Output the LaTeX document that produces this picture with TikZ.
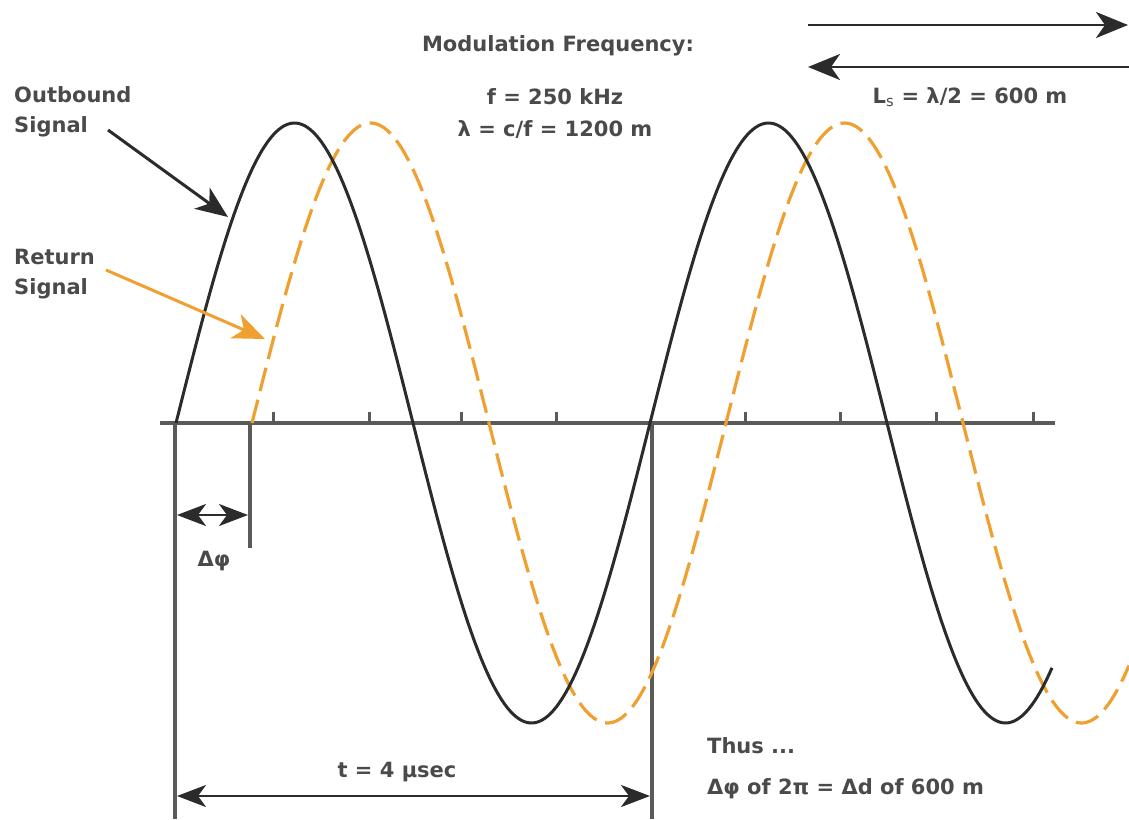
\documentclass[tikz,border=0pt]{standalone}
\usepackage{fontspec}
\setmainfont{DejaVu Sans}
\usetikzlibrary{arrows.meta}
\definecolor{txt}{HTML}{4A4A4A}
\definecolor{curveblack}{HTML}{2B2B2B}
\definecolor{sigorange}{HTML}{F0A030}
\definecolor{linegray}{HTML}{5A5A5A}
\tikzset{
  lbl/.style={font=\fontsize{21}{30}\selectfont\bfseries, text=txt, inner sep=0pt},
  lblleft/.style={lbl, anchor=west, align=left},
  bigtip/.style={-{Stealth[length=32pt,width=26pt,inset=9pt]}},
  dimtip/.style={{Stealth[length=29pt,width=22pt,inset=8pt]}-{Stealth[length=29pt,width=22pt,inset=8pt]}},
  guide/.style={draw=linegray, line width=3.2pt},
  outcurve/.style={draw=curveblack, line width=3pt},
  retcurve/.style={draw=sigorange, line width=3.2pt, dash pattern=on 24pt off 9pt},
}
\begin{document}
\begin{tikzpicture}[x=1pt,y=-1pt]
\useasboundingbox (0,0) rectangle (1129,819);

% axis and ticks
\coordinate (axL) at (160,423);
\coordinate (axR) at (1055,423);
\draw[guide] (axL) -- (axR);
\foreach \t in {273,369,461,556,745,840,936,1033}{
  \draw[linegray, line width=3pt] (\t,423) -- (\t,412);
}

% vertical guides
\coordinate (v1t) at (175,423);
\coordinate (v1b) at (175,819);
\coordinate (v2t) at (250,423);
\coordinate (v2b) at (250,548);
\coordinate (v3t) at (652,423);
\coordinate (v3b) at (652,819);
\draw[guide] (v1t) -- (v1b);
\draw[guide] (v2t) -- (v2b);
\draw[guide] (v3t) -- (v3b);

% curves
\draw[retcurve] plot[domain=252:1129, samples=300] (\x, {423-300*sin(0.759494*(\x-252))});
\draw[outcurve] plot[domain=176:1052, samples=300] (\x, {423-300*sin(0.759494*(\x-176))});

% delta phi dimension
\coordinate (dpL) at (177,515);
\coordinate (dpR) at (248,515);
\draw[curveblack, line width=2.8pt, dimtip] (dpL) -- (dpR);
\node[lbl] (dphi) at (214,561) {Δφ};

% t dimension
\coordinate (tL) at (177,796);
\coordinate (tR) at (650,796);
\draw[curveblack, line width=2.8pt, dimtip] (tL) -- (tR);
\node[lbl] (tlab) at (397,772) {t = 4 µsec};

% top arrows
\coordinate (a1s) at (808,25);
\coordinate (a1e) at (1128,25);
\coordinate (a2s) at (1129,67);
\coordinate (a2e) at (808,67);
\draw[curveblack, line width=2.8pt, bigtip] (a1s) -- (a1e);
\draw[curveblack, line width=2.8pt, bigtip] (a2s) -- (a2e);
\node[lbl] (ls) at (970,97) {L$_{\mathrm{s}}$ = λ/2 = 600 m};

% modulation text
\node[lbl] (modf) at (558,46) {Modulation Frequency:};
\node[lbl] (freq) at (555,97) {f = 250 kHz};
\node[lbl] (lam) at (555,129) {λ = c/f = 1200 m};

% signal labels
\node[lblleft] (outb) at (14,112) {Outbound\\Signal};
\node[lblleft] (retn) at (14,274) {Return\\Signal};
\coordinate (outtip) at (228,217);
\coordinate (outst) at (108,130);
\coordinate (rettip) at (265,339);
\coordinate (retst) at (106,270);
\draw[curveblack, line width=3pt, bigtip] (outst) -- (outtip);
\draw[sigorange, line width=3pt, bigtip] (retst) -- (rettip);

% conclusion
\node[lblleft] (thus) at (707,746) {Thus ...};
\node[lblleft] (concl) at (707,789) {Δφ of 2π = Δd of 600 m};
\end{tikzpicture}
\end{document}
